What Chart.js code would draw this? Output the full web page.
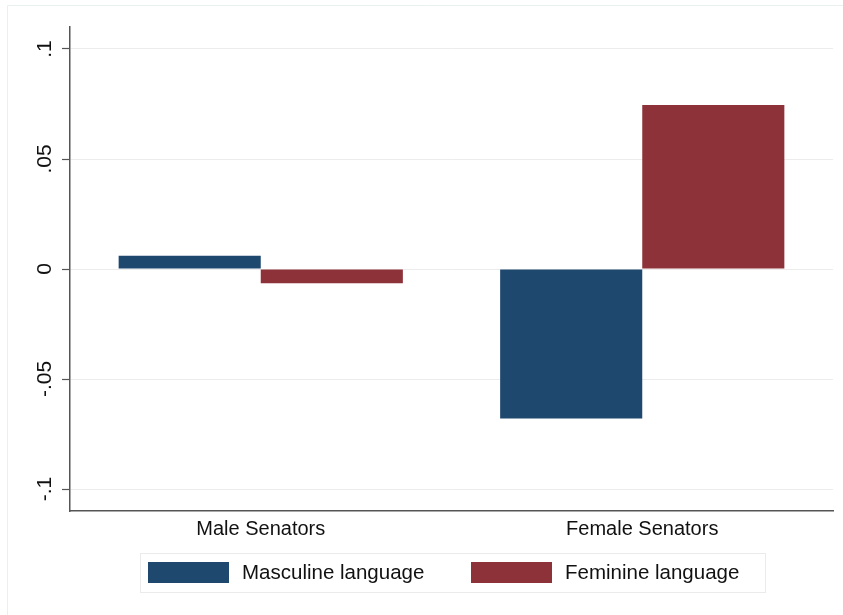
<!DOCTYPE html>
<html>
<head>
<meta charset="utf-8">
<script src="https://cdn.jsdelivr.net/npm/chart.js@4"></script>
<style>
  html, body { margin: 0; padding: 0; background: #ffffff; }
  canvas { display: block; }
</style>
</head>
<body>
<canvas id="c" width="843" height="615"></canvas>
<script>
// ---- data ----
const categories = ['Male Senators', 'Female Senators'];
const seriesNames = ['Masculine language', 'Feminine language'];
const masculine = [0.006, -0.068];
const feminine = [-0.0065, 0.0745];
const yTickValues = [-0.1, -0.05, 0, 0.05, 0.1];
const yTickLabels = ['-.1', '-.05', '0', '.05', '.1'];

const FONT = '"Liberation Sans", Arial, Helvetica, sans-serif';
const BLUE = '#1f486f';
const RED = '#8e3239';

const framePlugin = {
  id: 'frame',
  beforeDraw(chart) {
    const ctx = chart.ctx;
    ctx.save();
    ctx.fillStyle = '#ffffff';
    ctx.fillRect(0, 0, chart.width, chart.height);
    ctx.strokeStyle = '#e8f0f0';
    ctx.lineWidth = 1;
    ctx.beginPath();
    ctx.moveTo(7.5, chart.height);
    ctx.lineTo(7.5, 5.5);
    ctx.lineTo(chart.width, 5.5);
    ctx.stroke();
    ctx.restore();
  }
};

const legendPlugin = {
  id: 'customLegend',
  afterDraw(chart) {
    const ctx = chart.ctx;
    const ds = chart.data.datasets;
    ctx.save();
    ctx.strokeStyle = '#ebebeb';
    ctx.lineWidth = 1;
    ctx.strokeRect(140.5, 553.5, 625, 39);
    const items = [
      { sx: 148, tx: 242 },
      { sx: 471, tx: 565 }
    ];
    ctx.font = '20.5px ' + FONT;
    ctx.textBaseline = 'middle';
    ctx.textAlign = 'left';
    ds.forEach((d, i) => {
      ctx.fillStyle = d.backgroundColor;
      ctx.fillRect(items[i].sx, 562, 81, 21);
      ctx.fillStyle = '#111111';
      ctx.fillText(d.label, items[i].tx, 573);
    });
    ctx.restore();
  }
};

new Chart(document.getElementById('c'), {
  type: 'bar',
  data: {
    labels: categories,
    datasets: [
      { label: seriesNames[0], data: masculine, backgroundColor: BLUE,
        categoryPercentage: 0.745, barPercentage: 1.0 },
      { label: seriesNames[1], data: feminine, backgroundColor: RED,
        categoryPercentage: 0.745, barPercentage: 1.0 }
    ]
  },
  options: {
    responsive: false,
    animation: false,
    devicePixelRatio: 1,
    layout: { padding: { left: 0, right: 10, top: 27, bottom: 59 } },
    plugins: {
      legend: { display: false },
      tooltip: { enabled: false }
    },
    scales: {
      x: {
        afterFit(scale) { scale.height = 45; },
        grid: { display: false },
        border: { display: true, color: '#555555', width: 1.5 },
        ticks: {
          color: '#111111',
          font: { family: FONT, size: 20 },
          padding: -2,
          maxRotation: 0
        }
      },
      y: {
        min: -0.11,
        max: 0.11,
        afterFit(scale) { scale.width = 70; },
        afterBuildTicks(scale) {
          scale.ticks = yTickValues.map(v => ({ value: v }));
        },
        grid: {
          color: '#ececec',
          lineWidth: 1,
          drawTicks: true,
          tickLength: 8,
          tickColor: '#555555',
          tickWidth: 1.2
        },
        border: { display: true, color: '#555555', width: 1.5 },
        ticks: {
          color: '#111111',
          font: { family: FONT, size: 21 },
          minRotation: 90,
          maxRotation: 90,
          crossAlign: 'center',
          padding: -1,
          callback(value) {
            const idx = yTickValues.findIndex(t => Math.abs(t - value) < 1e-9);
            return idx >= 0 ? yTickLabels[idx] : '';
          }
        }
      }
    }
  },
  plugins: [framePlugin, legendPlugin]
});
</script>
</body>
</html>
